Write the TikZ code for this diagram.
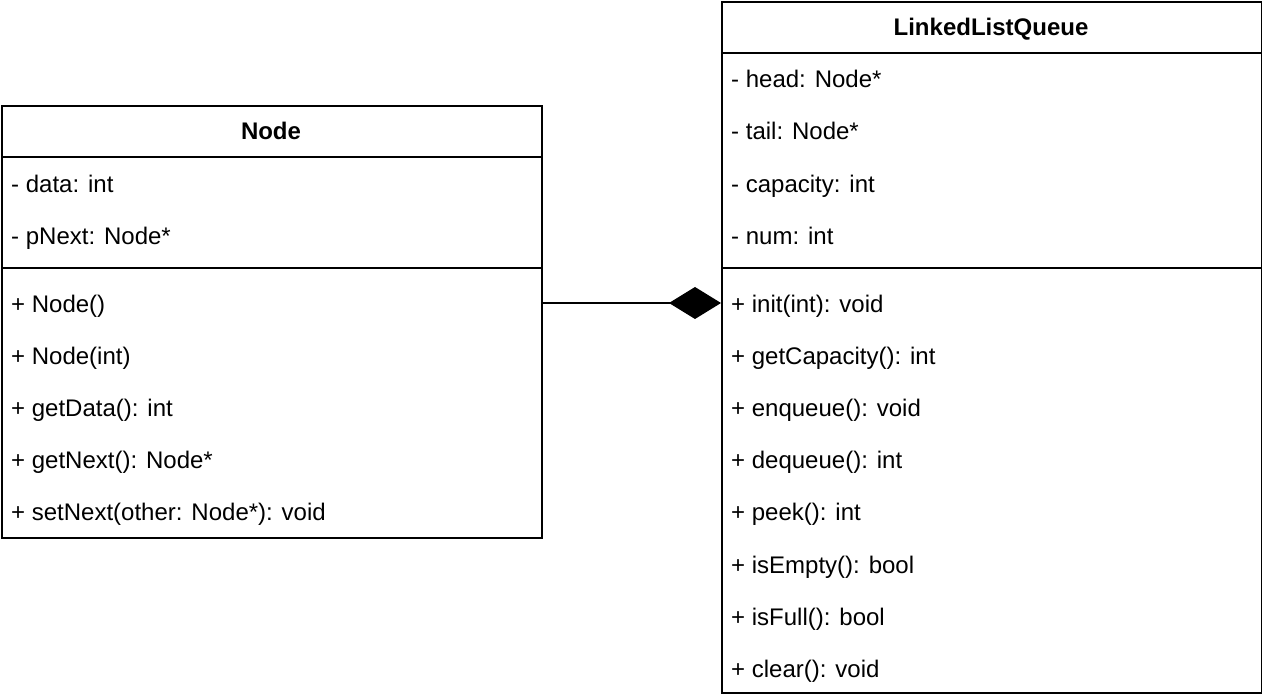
\documentclass[tikz,border=0pt]{standalone}
\usepackage{fontspec}
\setmainfont{Liberation Sans}
\usetikzlibrary{arrows.meta}
\begin{document}
\begin{tikzpicture}[x=1pt,y=-1pt,
  cls/.style={draw=black,line width=2pt,fill=white,anchor=north west,inner sep=0pt},
  sep/.style={line width=2pt},
  member/.style={anchor=base west,inner sep=0pt,font=\fontsize{24}{28}\selectfont},
  title/.style={anchor=base,inner sep=0pt,font=\fontsize{24}{28}\selectfont\bfseries},
  comp/.style={line width=2pt,-{Diamond[length=52pt,width=32pt,fill=black]}}]
\useasboundingbox (0,0) rectangle (1262,700);
% Node class
\node[cls,minimum width=540pt,minimum height=432pt] (nodecls) at (1,105) {};
\draw[sep] (1,157) -- (541,157);
\draw[sep] (1,268) -- (541,268);
\node[title] (nodetitle) at (271,140) {Node};
\node[member] (n1) at (11,193) {- data: int};
\node[member] (n2) at (11,245) {- pNext: Node*};
\node[member] (n3) at (11,313) {+ Node()};
\node[member] (n4) at (11,365) {+ Node(int)};
\node[member] (n5) at (11,417) {+ getData(): int};
\node[member] (n6) at (11,469) {+ getNext(): Node*};
\node[member] (n7) at (11,521) {+ setNext(other: Node*): void};
% LinkedListQueue class
\node[cls,minimum width=540pt,minimum height=691pt] (llq) at (721,1) {};
\draw[sep] (721,53) -- (1261,53);
\draw[sep] (721,268) -- (1261,268);
\node[title] (llqtitle) at (991,36) {LinkedListQueue};
\node[member] (q1) at (731,88) {- head: Node*};
\node[member] (q2) at (731,140) {- tail: Node*};
\node[member] (q3) at (731,193) {- capacity: int};
\node[member] (q4) at (731,245) {- num: int};
\node[member] (q5) at (731,313) {+ init(int): void};
\node[member] (q6) at (731,365) {+ getCapacity(): int};
\node[member] (q7) at (731,417) {+ enqueue(): void};
\node[member] (q8) at (731,469) {+ dequeue(): int};
\node[member] (q9) at (731,521) {+ peek(): int};
\node[member] (q10) at (731,573) {+ isEmpty(): bool};
\node[member] (q11) at (731,625) {+ isFull(): bool};
\node[member] (q12) at (731,677) {+ clear(): void};
% composition
\coordinate (cy) at (0,303);
\draw[comp] (nodecls.east |- cy) -- (llq.west |- cy);
\end{tikzpicture}
\end{document}
